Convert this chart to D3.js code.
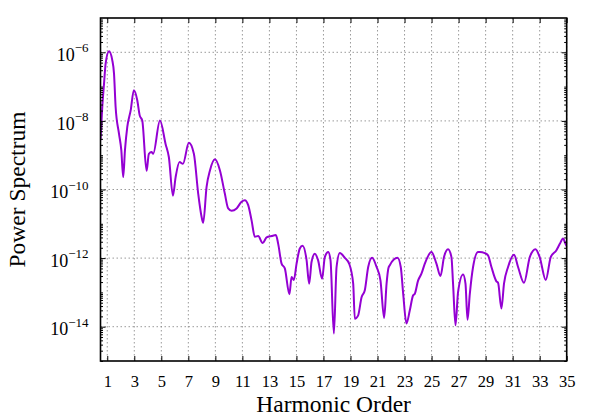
<!DOCTYPE html>
<html>
<head>
<meta charset="utf-8">
<script src="https://cdn.jsdelivr.net/npm/d3@7"></script>
<style>
  body { margin: 0; background: #fff; }
  svg { display: block; font-family: "Liberation Serif", "DejaVu Serif", serif; }
</style>
</head>
<body>
<svg id="chart" width="600" height="420"></svg>
<script>
// harmonic order (x) and power spectrum (y)
var harmonic = [0.5, 0.63, 0.76, 0.88, 1.13, 1.37, 1.5, 1.62, 1.87, 2.04, 2.18, 2.31, 2.48, 2.73, 2.97,
  3.22, 3.4, 3.59, 3.91, 4.08, 4.28, 4.4, 4.9, 5.32, 5.56, 5.86, 6.06, 6.35, 6.6, 7.04, 7.41,
  7.73, 7.98, 8.1, 8.35, 8.6, 8.97, 9.34, 9.7, 9.95, 10.2, 10.57, 10.94, 11.18, 11.43, 11.68,
  11.92, 12.17, 12.5, 12.79, 13.16, 13.48, 13.65, 13.9, 14.14, 14.48, 14.64, 14.81, 15.01, 15.25,
  15.45, 15.75, 15.94, 16.12, 16.36, 16.6, 16.9, 17.1, 17.35, 17.52, 17.77, 17.97, 18.21, 18.58,
  18.9, 19.2, 19.32, 19.56, 19.82, 20.06, 20.31, 20.6, 20.93, 21.22, 21.49, 21.67, 21.8, 21.91,
  22.48, 22.72, 22.9, 23.14, 23.39, 23.63, 23.76, 24.0, 24.25, 24.5, 24.99, 25.36, 25.66, 25.92,
  26.22, 26.47, 26.59, 26.77, 26.96, 27.33, 27.51, 27.66, 27.83, 28.07, 28.44, 28.57, 28.94, 29.18,
  29.43, 29.8, 29.92, 30.17, 30.36, 30.66, 31.1, 31.4, 31.84, 32.27, 32.69, 33.0, 33.45, 33.82,
  34.24, 34.49, 34.73, 34.91, 35.0];

var power = [2.75e-9, 2.5e-8, 1.2e-7, 4.7e-7, 1.07e-6, 5.9e-7, 2.4e-7, 2.5e-8, 4.2e-9, 1.4e-9, 2.3e-10, 1.4e-9, 6.6e-9, 2.0e-8, 7.8e-8,
  4.0e-8, 1.45e-8, 1.02e-8, 3.5e-10, 1.1e-9, 1.23e-9, 1.1e-9, 1.02e-8, 2.1e-9, 8.7e-10, 6.6e-11, 2.3e-10, 6.3e-10, 5.6e-10, 2.3e-9, 1.1e-9,
  7.6e-11, 1.6e-11, 1.07e-11, 1.2e-10, 3.6e-10, 7.6e-10, 3.6e-10, 7.6e-11, 2.8e-11, 2.4e-11, 2.8e-11, 4.4e-11, 4.9e-11, 3.5e-11, 1.26e-11,
  4.2e-12, 4.4e-12, 2.75e-12, 4.0e-12, 4.4e-12, 4.7e-12, 2.6e-12, 6.9e-13, 5.0e-13, 8.9e-14, 2.8e-13, 2.3e-13, 6.9e-13, 1.9e-12,
  2.3e-12, 8.7e-13, 1.8e-13, 7.8e-13, 1.35e-12, 8.7e-13, 2.5e-13, 1.07e-12, 1.5e-12, 8.7e-13, 6.3e-15, 5.5e-13, 1.4e-12, 1.02e-12,
  6.9e-13, 1.8e-13, 1.7e-14, 2.1e-14, 7.2e-14, 1.15e-13, 5.5e-13, 1.02e-12, 5.5e-13, 2.2e-13, 1.8e-14, 1.8e-13, 5.0e-13, 6.2e-13,
  1.02e-12, 5.5e-13, 9.1e-14, 1.23e-14, 3.0e-14, 8.1e-14, 9.1e-14, 2.2e-13, 3.5e-13, 6.9e-13, 1.5e-12, 6.9e-13, 3.0e-13, 1.07e-12,
  1.8e-12, 1.07e-12, 1.8e-13, 1.1e-14, 1.02e-13, 3.3e-13, 1.8e-13, 1.6e-14, 9.1e-14, 5.5e-13, 1.5e-12, 1.5e-12, 1.4e-12, 1.2e-12,
  5.5e-13, 2.1e-13, 1.9e-13, 3.4e-14, 1.8e-13, 5.5e-13, 1.26e-12, 5.5e-13, 1.9e-13, 1.07e-12, 1.8e-12, 1.07e-12, 2.3e-13, 1.07e-12,
  1.7e-12, 2.6e-12, 3.7e-12, 2.6e-12, 2.2e-12];

var xTicks = [1, 3, 5, 7, 9, 11, 13, 15, 17, 19, 21, 23, 25, 27, 29, 31, 33, 35];
var yTicks = [1e-6, 1e-8, 1e-10, 1e-12, 1e-14];

var plotL = 100.5, plotR = 566.7, plotT = 18, plotB = 361;

var svg = d3.select("#chart");

var x = d3.scaleLinear().domain([0.5, 35]).range([plotL, plotR]);
var y = d3.scaleLog().domain([1e-15, 1e-5]).range([plotB, plotT]);

// minor log ticks: every k*10^e except the labelled decades
var yMinor = [];
for (var e = -15; e <= -6; e++) {
  for (var k = 1; k <= 9; k++) {
    var v = k * Math.pow(10, e);
    if (k === 1 && e % 2 === 0) continue;
    if (v > 1e-5 || v < 1e-15) continue;
    yMinor.push(v);
  }
}

// grid
svg.append("g").selectAll("line")
  .data(xTicks).enter().append("line")
  .attr("x1", function (d) { return x(d); }).attr("x2", function (d) { return x(d); })
  .attr("y1", plotT).attr("y2", plotB)
  .attr("stroke", "#808080").attr("stroke-width", 0.8).attr("stroke-dasharray", "1.5,2.5");

svg.append("g").selectAll("line")
  .data(yTicks).enter().append("line")
  .attr("x1", plotL).attr("x2", plotR)
  .attr("y1", function (d) { return y(d); }).attr("y2", function (d) { return y(d); })
  .attr("stroke", "#808080").attr("stroke-width", 0.8).attr("stroke-dasharray", "1.5,2.5");

// curve
svg.append("clipPath").attr("id", "clip").append("rect")
  .attr("x", plotL).attr("y", plotT).attr("width", plotR - plotL).attr("height", plotB - plotT);

var pts = harmonic.map(function (h, i) { return {h: h, p: power[i]}; });

var line = d3.line()
  .x(function (d) { return x(d.h); })
  .y(function (d) { return y(d.p); })
  .curve(d3.curveMonotoneX);

svg.append("path")
  .datum(pts)
  .attr("clip-path", "url(#clip)")
  .attr("fill", "none")
  .attr("stroke", "#9400d3")
  .attr("stroke-width", 2)
  .attr("stroke-linejoin", "round")
  .attr("d", line);

// axes (ticks point inward)
function clean(g) {
  g.select(".domain").remove();
  g.selectAll(".tick line").attr("stroke", "#000");
}

var gb = svg.append("g").attr("transform", "translate(0," + plotB + ")")
  .call(d3.axisBottom(x).tickValues(xTicks).tickSizeInner(-5).tickSizeOuter(0).tickPadding(10)
    .tickFormat(d3.format("d")));
clean(gb);
gb.selectAll(".tick text").attr("font-size", "16.5px").attr("fill", "#000")
  .attr("font-family", "Liberation Serif, serif").attr("dy", "0.95em");

var gt = svg.append("g").attr("transform", "translate(0," + plotT + ")")
  .call(d3.axisTop(x).tickValues(xTicks).tickSizeInner(-5).tickSizeOuter(0).tickFormat(""));
clean(gt);

var gl = svg.append("g").attr("transform", "translate(" + plotL + ",0)")
  .call(d3.axisLeft(y).tickValues(yTicks).tickSizeInner(-5).tickSizeOuter(0).tickPadding(12));
clean(gl);
gl.selectAll(".tick text").each(function (d) {
  var t = d3.select(this);
  t.text(null).attr("dy", "0.45em").attr("font-size", "18px").attr("fill", "#000")
    .attr("font-family", "Liberation Serif, serif");
  t.append("tspan").text("10");
  t.append("tspan").attr("dy", -8.5).attr("font-size", "13px")
    .text("\u2212" + Math.round(-Math.log10(d)));
});

var glm = svg.append("g").attr("transform", "translate(" + plotL + ",0)")
  .call(d3.axisLeft(y).tickValues(yMinor).tickSizeInner(-2.5).tickSizeOuter(0).tickFormat(""));
clean(glm);

var gr = svg.append("g").attr("transform", "translate(" + plotR + ",0)")
  .call(d3.axisRight(y).tickValues(yTicks).tickSizeInner(-5).tickSizeOuter(0).tickFormat(""));
clean(gr);

var grm = svg.append("g").attr("transform", "translate(" + plotR + ",0)")
  .call(d3.axisRight(y).tickValues(yMinor).tickSizeInner(-2.5).tickSizeOuter(0).tickFormat(""));
clean(grm);

// frame
svg.append("rect")
  .attr("x", plotL).attr("y", plotT).attr("width", plotR - plotL).attr("height", plotB - plotT)
  .attr("fill", "none").attr("stroke", "#000").attr("stroke-width", 1.6);

// axis titles
svg.append("text")
  .attr("x", (plotL + plotR) / 2).attr("y", 411.5)
  .attr("text-anchor", "middle").attr("font-size", "23.5px")
  .text("Harmonic Order");

svg.append("text")
  .attr("transform", "translate(25," + ((plotT + plotB) / 2) + ") rotate(-90)")
  .attr("text-anchor", "middle").attr("font-size", "23.5px")
  .text("Power Spectrum");
</script>
</body>
</html>
